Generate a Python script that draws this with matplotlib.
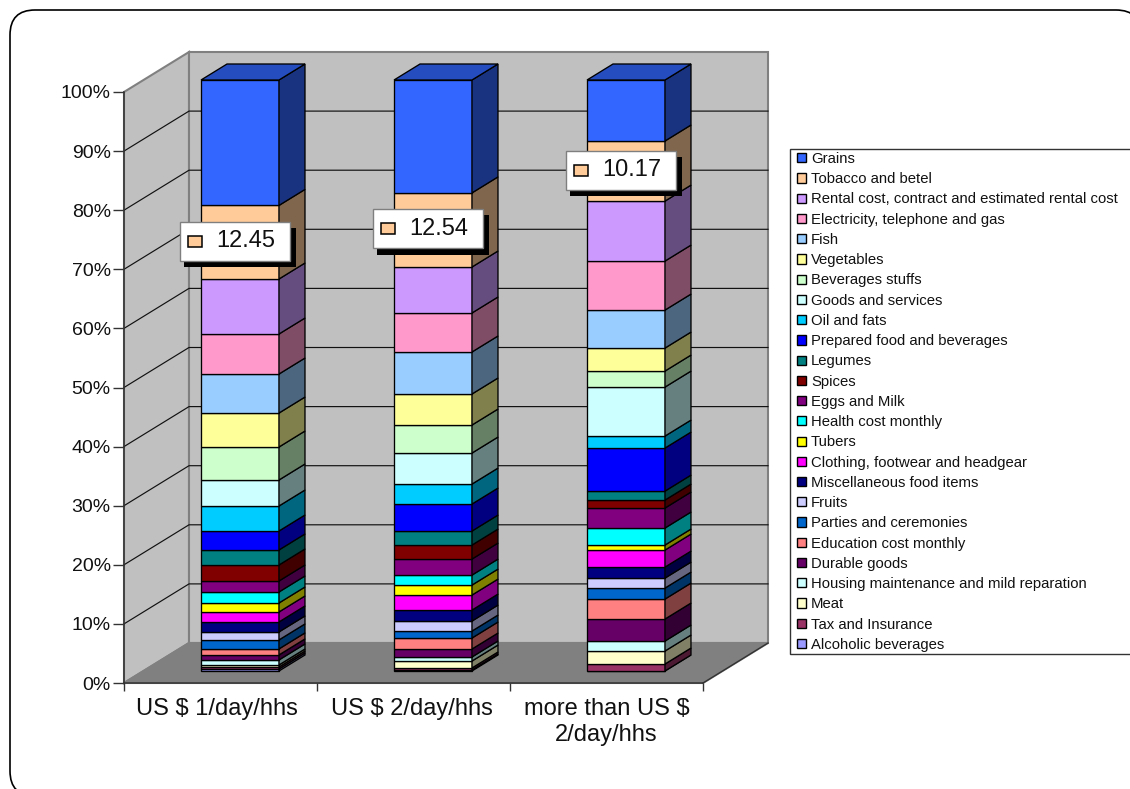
import matplotlib
matplotlib.use("Agg")
import matplotlib.pyplot as plt
from matplotlib.patches import FancyBboxPatch, Patch, Polygon, Rectangle
from matplotlib.ticker import FixedLocator, NullFormatter, PercentFormatter
from matplotlib.transforms import Affine2D

plt.rcParams["font.family"] = ["Liberation Sans", "DejaVu Sans"]

W, H = 1130, 789

categories = ["US $ 1/day/hhs", "US $ 2/day/hhs", "more than US $\n2/day/hhs"]

# stacking order, bottom of the column first
items = [
    "Alcoholic beverages", "Tax and Insurance", "Meat",
    "Housing maintenance and mild reparation", "Durable goods",
    "Education cost monthly", "Parties and ceremonies", "Fruits",
    "Miscellaneous food items", "Clothing, footwear and headgear", "Tubers",
    "Health cost monthly", "Eggs and Milk", "Spices", "Legumes",
    "Prepared food and beverages", "Oil and fats", "Goods and services",
    "Beverages stuffs", "Vegetables", "Fish", "Electricity, telephone and gas",
    "Rental cost, contract and estimated rental cost", "Tobacco and betel",
    "Grains",
]
colors = [
    "#9999FF", "#993366", "#FFFFCC", "#CCFFFF", "#660066", "#FF8080", "#0066CC",
    "#CCCCFF", "#000080", "#FF00FF", "#FFFF00", "#00FFFF", "#800080", "#800000",
    "#008080", "#0000FF", "#00CCFF", "#CCFFFF", "#CCFFCC", "#FFFF99", "#99CCFF",
    "#FF99CC", "#CC99FF", "#FFCC99", "#3366FF",
]

share_1 = [0.34, 0.34, 0.34, 0.85, 0.85, 1.02, 1.52, 1.35, 1.69, 1.69, 1.52, 1.86,
           1.86, 2.71, 2.54, 3.21, 4.23, 4.40, 5.58, 5.75, 6.60, 6.77, 9.31, 12.45,
           21.22]
share_2 = [0.17, 0.34, 1.18, 0.68, 1.35, 1.86, 1.18, 1.69, 1.86, 2.54, 1.69, 1.69,
           2.71, 2.37, 2.37, 4.57, 3.38, 5.25, 4.74, 5.25, 7.11, 6.60, 7.78, 12.54,
           19.10]
share_3 = [0.00, 1.18, 2.20, 1.69, 3.72, 3.38, 1.86, 1.69, 1.86, 2.88, 0.85, 2.88,
           3.38, 1.35, 1.52, 7.28, 2.03, 8.29, 2.71, 3.89, 6.43, 8.29, 10.15, 10.17,
           10.32]
shares = [share_1, share_2, share_3]
labelled_item = "Tobacco and betel"

# oblique depth of the fake 3D box, in data units
DEPTH_X = 65 / 193
DEPTH_Y = 40 / 5.91
BAR_W = 0.404
D0, D1 = 0.3, 0.7
BAR_LW = 0.95
GRID = "#111111"
EDGE = "#808080"


def shade(color, k):
    r, g, b = matplotlib.colors.to_rgb(color)
    return (r * k, g * k, b * k)


fig = plt.figure(figsize=(W / 100, H / 100), dpi=100, facecolor="white")
ax = fig.add_axes([124 / W, 1 - 683 / H, 579 / W, 591 / H])
ax.set_xlim(0, 3)
ax.set_ylim(0, 100)
ax.patch.set_visible(False)
for s in ["top", "right"]:
    ax.spines[s].set_visible(False)
for s in ["left", "bottom"]:
    ax.spines[s].set_color("#333333")
    ax.spines[s].set_linewidth(1.1)

# pixel coordinates, origin top left
px = Affine2D().scale(1, -1).translate(0, H)

# outer rounded frame
frame = FancyBboxPatch((10 + 25, 10 + 25), 1141 - 10 - 50, 796 - 10 - 50,
                       boxstyle="round,pad=25,rounding_size=25", transform=px,
                       fc="white", ec="black", lw=1.2, clip_on=False, zorder=-10)
ax.add_patch(frame)

# walls and floor
ax.fill([0, DEPTH_X, DEPTH_X, 0], [0, DEPTH_Y, 100 + DEPTH_Y, 100], fc="#C0C0C0",
        ec=EDGE, lw=1.5, clip_on=False, zorder=0)
ax.fill([DEPTH_X, 3 + DEPTH_X, 3 + DEPTH_X, DEPTH_X],
        [DEPTH_Y, DEPTH_Y, 100 + DEPTH_Y, 100 + DEPTH_Y], fc="#C0C0C0",
        ec=EDGE, lw=1.5, clip_on=False, zorder=0)
ax.fill([0, 3, 3 + DEPTH_X, DEPTH_X], [0, 0, DEPTH_Y, DEPTH_Y], fc="#808080",
        ec=EDGE, lw=1.5, clip_on=False, zorder=0)
ax.plot([3, 3 + DEPTH_X], [0, DEPTH_Y], color="#333333", lw=1, clip_on=False, zorder=1)
for g in range(10, 100, 10):
    ax.plot([0, DEPTH_X, 3 + DEPTH_X], [g, g + DEPTH_Y, g + DEPTH_Y], color=GRID,
            lw=0.85, clip_on=False, zorder=1)

# columns
for i, vals in enumerate(shares):
    left = i + 0.5 - BAR_W / 2
    right = left + BAR_W
    bottom = 0
    for name, val, col in zip(items, vals, colors):
        top = bottom + val
        ax.bar(left + D0 * DEPTH_X, val, BAR_W, bottom + D0 * DEPTH_Y, align="edge",
               color=col, edgecolor="black", linewidth=BAR_LW, clip_on=False, zorder=3)
        side = [(right + D0 * DEPTH_X, bottom + D0 * DEPTH_Y),
                (right + D1 * DEPTH_X, bottom + D1 * DEPTH_Y),
                (right + D1 * DEPTH_X, top + D1 * DEPTH_Y),
                (right + D0 * DEPTH_X, top + D0 * DEPTH_Y)]
        ax.add_patch(Polygon(side, fc=shade(col, 0.5), ec="black", lw=BAR_LW,
                             clip_on=False, zorder=3))
        bottom = top
    cap = [(left + D0 * DEPTH_X, bottom + D0 * DEPTH_Y),
           (left + D1 * DEPTH_X, bottom + D1 * DEPTH_Y),
           (right + D1 * DEPTH_X, bottom + D1 * DEPTH_Y),
           (right + D0 * DEPTH_X, bottom + D0 * DEPTH_Y)]
    ax.add_patch(Polygon(cap, fc=shade(colors[-1], 0.75), ec="black", lw=BAR_LW,
                         clip_on=False, zorder=3))

# value boxes on the tobacco segment
fig.canvas.draw()
idx = items.index(labelled_item)
tobacco_color = colors[idx]
for i, vals in enumerate(shares):
    mid = sum(vals[:idx]) + vals[idx] / 2 + D0 * DEPTH_Y
    cx, cy = ax.transData.transform((i + 0.5 + D0 * DEPTH_X, mid))
    cx, cy = cx - 5, H - cy - 1
    x0, y0 = cx - 55, cy - 19.5
    ax.add_patch(Rectangle((x0 + 3.5, y0 + 6), 112, 39.5, transform=px, fc="black",
                           ec="none", clip_on=False, zorder=5))
    ax.add_patch(Rectangle((x0, y0), 110, 39, transform=px, fc="white", ec="#7F7F7F",
                           lw=1, clip_on=False, zorder=6))
    ax.add_patch(Rectangle((x0 + 8, cy - 5.5), 13.5, 11, transform=px, fc=tobacco_color,
                           ec="black", lw=1.1, clip_on=False, zorder=7))
    ax.text(cx + 10.5, cy, f"{vals[idx]:.2f}", transform=px, ha="center", va="center",
            fontsize=17, color="#111111", zorder=7, clip_on=False)

# axes ticks
ax.yaxis.set_major_locator(FixedLocator(range(0, 101, 10)))
ax.yaxis.set_major_formatter(PercentFormatter(decimals=0))
ax.tick_params(axis="y", length=8, width=1, color="#333333", labelsize=14, pad=1.5,
               labelcolor="#111111")
ax.set_xticks([0, 1, 2, 3])
ax.xaxis.set_major_formatter(NullFormatter())
ax.set_xticks([0.48, 1.49, 2.5], minor=True)
ax.set_xticklabels(categories, minor=True, fontsize=17, color="#111111", linespacing=1.25)
ax.tick_params(axis="x", which="major", length=6, width=1, color="#333333")
ax.tick_params(axis="x", which="minor", length=0, pad=10.5)

# legend, last stacked item first; frame runs off the right edge
ax.add_patch(Rectangle((790, 149), 400, 505, transform=px, fc="white", ec="#333333",
                       lw=1, clip_on=False, zorder=8))
handles = [Patch(fc=c, ec="black", lw=1, label=n) for n, c in zip(items, colors)][::-1]
leg = ax.legend(handles=handles, loc="upper left", frameon=False, fontsize=10.75,
                bbox_to_anchor=(790 / W, 1 - 145 / H), bbox_transform=fig.transFigure,
                borderaxespad=0, borderpad=0.47, labelspacing=0.418, handlelength=0.57,
                handleheight=0.57, handletextpad=0.37, labelcolor="#111111")
leg.set_zorder(9)

fig.savefig("out.png", dpi=100)
